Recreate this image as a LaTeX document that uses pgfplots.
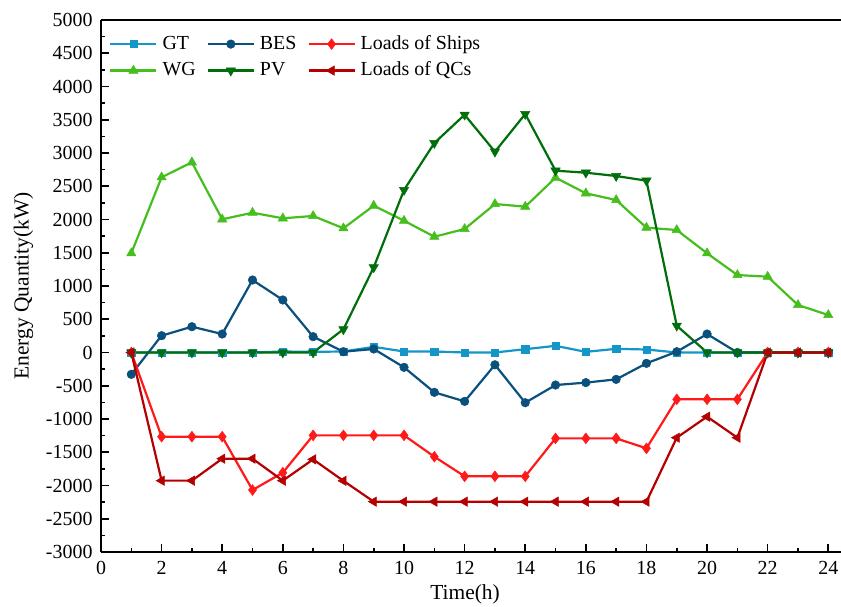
\documentclass[border=0pt]{standalone}
\usepackage{fontspec}
\setmainfont{Liberation Serif}
\usepackage{pgfplots}
\pgfplotsset{compat=1.18}
\definecolor{cGT}{RGB}{20,150,200}
\definecolor{cBES}{RGB}{10,80,125}
\definecolor{cWG}{RGB}{70,190,30}
\definecolor{cPV}{RGB}{0,110,10}
\definecolor{cSH}{RGB}{255,25,25}
\definecolor{cQC}{RGB}{180,0,0}
\begin{document}
\begin{tikzpicture}
\useasboundingbox (-101bp,-55bp) rectangle (740bp,552bp);
\begin{axis}[
  scale only axis,
  width=740bp, height=532bp,
  xmin=0, xmax=24.42, ymin=-3000, ymax=5000,
  axis x line*=box, axis y line*=left,
  xtick={0,2,...,24}, minor xtick={1,3,...,23},
  ytick={-3000,-2500,...,5000}, minor ytick={-2750,-2250,...,4750},
  xtick pos=bottom, ytick pos=left,
  tick align=inside,
  major tick length=8bp, minor tick length=4bp,
  every tick/.style={black, line width=1.6bp},
  axis line style={black, line width=2bp},
  /pgf/number format/assume math mode=true,
  /pgf/number format/set thousands separator={},
  tick label style={font=\fontsize{20}{20}\selectfont},
  yticklabel style={xshift=-5bp},
  xticklabel style={yshift=-6bp},
  label style={font=\fontsize{21.5}{22}\selectfont},
  xlabel={Time(h)}, ylabel={Energy Quantity(kW)},
  xlabel style={at={(axis description cs:0.492,0)}, anchor=north, inner sep=0pt, yshift=-32bp},
  ylabel style={yshift=6bp},
  legend columns=3,
  legend style={draw=none, fill=none, at={(axis description cs:0.011,0.972)}, anchor=north west,
    inner sep=0pt, font=\fontsize{20}{20}\selectfont,
    nodes={inner sep=0pt, text height=14bp, text depth=4bp},
    row sep=8.5bp,
    /tikz/every odd column/.append style={column sep=5bp},
    /tikz/every even column/.append style={column sep=11bp}},
  legend cell align=left,
  legend image code/.code={
    \draw[mark repeat=2, mark phase=2] plot coordinates {(0bp,0bp) (23bp,0bp) (46bp,0bp)};
  },
  every axis plot/.append style={line width=2.2bp},
]
% GT
\addplot[cGT, mark=square*, mark size=3.6bp, mark options={fill=cGT, line width=0.5bp}] coordinates {
(1,0)(2,0)(3,0)(4,0)(5,0)(6,15)(7,10)(8,15)(9,85)(10,15)(11,15)(12,0)(13,0)(14,50)(15,100)(16,10)(17,55)(18,45)(19,0)(20,0)(21,0)(22,0)(23,0)(24,0)};
\addlegendentry{GT}
% BES
\addplot[cBES, mark=*, mark size=4.3bp, mark options={fill=cBES, line width=0.5bp}] coordinates {
(1,-328)(2,253)(3,388)(4,278)(5,1090)(6,790)(7,238)(8,12)(9,53)(10,-223)(11,-599)(12,-735)(13,-185)(14,-755)(15,-489)(16,-453)(17,-404)(18,-163)(19,12)(20,278)(21,0)(22,0)(23,0)(24,0)};
\addlegendentry{BES}
% Loads of Ships
\addplot[cSH, mark=diamond*, mark size=5.4bp, mark options={fill=cSH, line width=0.5bp}] coordinates {
(1,0)(2,-1266)(3,-1266)(4,-1266)(5,-2068)(6,-1807)(7,-1246)(8,-1246)(9,-1246)(10,-1246)(11,-1567)(12,-1862)(13,-1862)(14,-1862)(15,-1291)(16,-1291)(17,-1291)(18,-1441)(19,-704)(20,-704)(21,-704)(22,0)(23,0)(24,0)};
\addlegendentry{Loads of Ships}
% WG
\addplot[cWG, mark=triangle*, mark size=5.4bp, mark options={fill=cWG, line width=0.5bp}] coordinates {
(1,1492)(2,2635)(3,2860)(4,2003)(5,2102)(6,2018)(7,2053)(8,1868)(9,2208)(10,1982)(11,1741)(12,1857)(13,2233)(14,2193)(15,2629)(16,2394)(17,2293)(18,1877)(19,1842)(20,1492)(21,1165)(22,1140)(23,714)(24,564)};
\addlegendentry{WG}
% PV
\addplot[cPV, mark=triangle*, mark size=5.4bp, mark options={fill=cPV, rotate=180, line width=0.5bp}] coordinates {
(1,0)(2,0)(3,0)(4,0)(5,0)(6,0)(7,0)(8,349)(9,1281)(10,2444)(11,3150)(12,3575)(13,3020)(14,3586)(15,2734)(16,2704)(17,2654)(18,2584)(19,403)(20,0)(21,0)(22,0)(23,0)(24,0)};
\addlegendentry{PV}
% Loads of QCs
\addplot[cQC, mark=triangle*, mark size=5.4bp, mark options={fill=cQC, rotate=90, line width=0.5bp}] coordinates {
(1,0)(2,-1927)(3,-1927)(4,-1597)(5,-1597)(6,-1927)(7,-1607)(8,-1930)(9,-2243)(10,-2243)(11,-2243)(12,-2243)(13,-2243)(14,-2243)(15,-2243)(16,-2243)(17,-2243)(18,-2243)(19,-1281)(20,-965)(21,-1281)(22,0)(23,0)(24,0)};
\addlegendentry{Loads of QCs}
\end{axis}
\end{tikzpicture}
\end{document}
